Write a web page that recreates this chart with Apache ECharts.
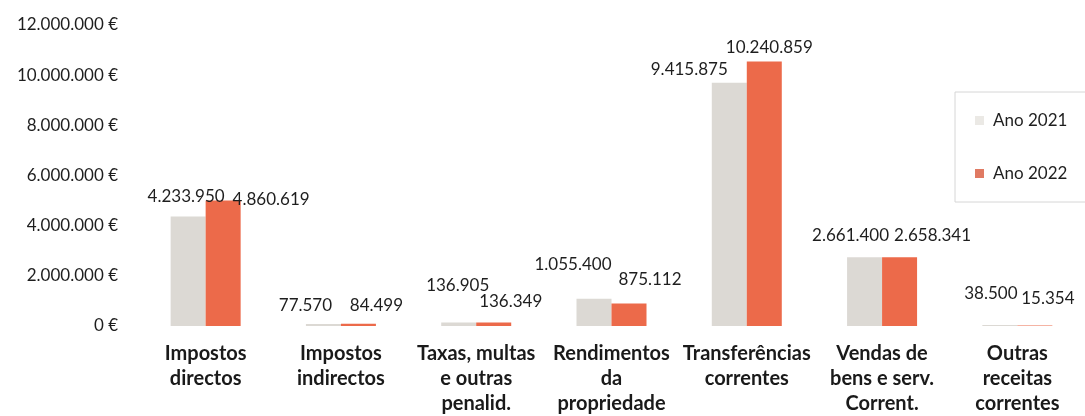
<!DOCTYPE html>
<html>
<head>
<meta charset="utf-8">
<script src="https://cdn.jsdelivr.net/npm/echarts@6/dist/echarts.min.js"></script>
<style>
  html, body { margin: 0; padding: 0; background: #fff; }
  #chart { width: 1085px; height: 416px; }
</style>
</head>
<body>
<div id="chart"></div>
<script>
var categories = [
    'Impostos\ndirectos',
    'Impostos\nindirectos',
    'Taxas, multas\ne outras\npenalid.',
    'Rendimentos\nda\npropriedade',
    'Transferências\ncorrentes',
    'Vendas de\nbens e serv.\nCorrent.',
    'Outras\nreceitas\ncorrentes'
];
var ano2021 = [4233950, 77570, 136905, 1055400, 9415875, 2661400, 38500];
var ano2022 = [4860619, 84499, 136349, 875112, 10240859, 2658341, 15354];
var yTicks = [0, 2000000, 4000000, 6000000, 8000000, 10000000, 12000000];

// label nudges (Excel placed them by hand)
var shift2021 = [[-2, -7], [-18, -5], [-1, -23], [-21, -21], [-40, 0], [-14, -8], [-9, -18]];
var shift2022 = [[48, 13], [18, -5], [17, -7], [21, -10], [5, 0], [33, -8], [13, -14]];

var font = 'Lato, "Open Sans", sans-serif';

function fmt(v) {
    return String(Math.round(v)).replace(/\B(?=(\d{3})+(?!\d))/g, '.');
}

function withLabels(values, shifts) {
    return values.map(function (v, i) {
        return { value: v, label: { offset: shifts[i] } };
    });
}

var valueLabel = {
    show: true,
    position: 'top',
    distance: 5,
    fontSize: 17,
    color: '#1e1e1e',
    fontFamily: font,
    formatter: function (p) { return fmt(p.value); }
};

var myChart = echarts.init(document.getElementById('chart'));
myChart.setOption({
    animation: false,
    textStyle: { fontFamily: font },
    legend: {
        data: [
            { name: 'Ano 2021', itemStyle: { color: '#ebe9e5' } },
            { name: 'Ano 2022', itemStyle: { color: '#e07a63' } }
        ],
        orient: 'vertical',
        left: 955,
        top: 92,
        icon: 'rect',
        itemWidth: 9,
        itemHeight: 9,
        itemGap: 36,
        padding: [20, 30, 20, 20],
        borderColor: '#d6d6d6',
        borderWidth: 1,
        textStyle: { fontSize: 17, color: '#1e1e1e', fontFamily: font, padding: [0, 0, 0, 4] }
    },
    grid: { left: 138, top: 25, width: 952, height: 303 },
    xAxis: {
        type: 'category',
        data: categories,
        axisLine: { show: false },
        axisTick: { show: false },
        axisLabel: {
            interval: 0,
            margin: 15,
            fontSize: 20,
            fontWeight: 'bold',
            lineHeight: 25,
            color: '#1a1a1a',
            fontFamily: font
        }
    },
    yAxis: [
        {
            type: 'value',
            min: yTicks[0],
            max: yTicks[yTicks.length - 1],
            interval: yTicks[1] - yTicks[0],
            splitLine: { show: false },
            axisLine: { show: false },
            axisTick: { show: false },
            axisLabel: {
                margin: 20,
                fontSize: 17,
                color: '#1e1e1e',
                fontFamily: font,
                formatter: function (v) { return fmt(v) + ' €'; }
            }
        },
        // the bars in the original sit on a slightly taller scale than its tick labels
        { type: 'value', min: 0, max: 11650000, show: false }
    ],
    series: [
        {
            name: 'Ano 2021',
            type: 'bar',
            yAxisIndex: 1,
            barWidth: 35,
            barGap: '0%',
            itemStyle: { color: '#dcd9d4' },
            label: valueLabel,
            data: withLabels(ano2021, shift2021)
        },
        {
            name: 'Ano 2022',
            type: 'bar',
            yAxisIndex: 1,
            barWidth: 35,
            barGap: '0%',
            itemStyle: { color: '#ec6a4a' },
            label: valueLabel,
            data: withLabels(ano2022, shift2022)
        }
    ]
});
</script>
</body>
</html>
